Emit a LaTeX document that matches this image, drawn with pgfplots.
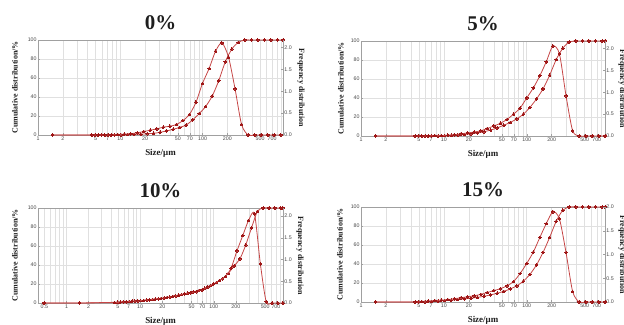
\documentclass[border=0pt]{standalone}
\usepackage{fontspec}
\setmainfont{Liberation Serif}
\newfontfamily\tickfont{Liberation Sans}
\usepackage{pgfplots}
\usepackage{pgfplotstable}
\pgfplotsset{compat=1.18}
\definecolor{linec}{RGB}{198,70,70}
\definecolor{markc}{RGB}{158,22,22}
\definecolor{gridc}{RGB}{224,224,224}
\definecolor{framec}{RGB}{160,160,160}
\definecolor{tickc}{RGB}{70,70,70}
\definecolor{labc}{RGB}{30,30,30}

\pgfplotstableread{
x f
1.5 0
4.5 0
5.4 0
6.48 0
7.78 0
9.33 0.01
11.2 0.02
13.4 0.03
16.1 0.05
19.3 0.08
23.2 0.11
27.9 0.14
33.4 0.18
40.1 0.20
48.1 0.24
57.8 0.33
69.3 0.47
83.2 0.75
99.8 1.18
120 1.52
144 1.92
172 2.11
207 1.78
248 1.06
298 0.24
358 0
430 0
516 0
619 0
743 0
891 0
}\PoneF
\pgfplotstableread{
x c
1.5 0
4.93 0
5.92 0
7.1 0
8.52 0.1
10.2 0.2
12.3 0.4
14.7 0.6
17.7 0.9
21.2 1.3
25.4 1.8
30.5 2.8
36.6 4.3
43.9 6.0
52.7 8.0
63.3 10.5
75.9 16
91.1 22.5
109 30
131 41
157 57
189 77
227 90.5
272 97.5
326 100
392 100
470 100
564 100
677 100
812 100
950 100
}\PoneC
\pgfplotstableread{
x f
1.5 0
4.5 0
5.4 0
6.48 0
7.78 0.01
9.33 0.01
11.2 0.02
13.4 0.03
16.1 0.05
19.3 0.07
23.2 0.09
27.9 0.12
33.4 0.17
40.1 0.23
48.1 0.29
57.8 0.38
69.3 0.50
83.2 0.64
99.8 0.87
120 1.10
144 1.38
172 1.70
207 2.06
248 1.88
298 0.92
358 0.12
430 0
516 0
619 0
743 0
880 0
}\PtwoF
\pgfplotstableread{
x c
1.5 0
4.93 0
5.92 0
7.1 0.1
8.52 0.2
10.2 0.4
12.3 0.7
14.7 1.1
17.7 1.6
21.2 2.3
25.4 3.2
30.5 4.5
36.6 6.2
43.9 8.5
52.7 11.3
63.3 14.3
75.9 18
91.1 23
109 30
131 39
157 49.5
189 64
227 80.5
272 92.3
326 99
392 100
470 100
564 100
677 100
812 100
880 100
}\PtwoC
\pgfplotstableread{
x f
0.5 0
1.5 0
4.5 0.01
5.4 0.02
6.48 0.03
7.78 0.04
9.33 0.05
11.2 0.06
13.4 0.075
16.1 0.09
19.3 0.105
23.2 0.125
27.9 0.15
33.4 0.18
40.1 0.21
48.1 0.235
57.8 0.26
69.3 0.30
83.2 0.37
99.8 0.44
120 0.52
144 0.61
172 0.80
207 1.20
248 1.55
298 1.90
358 2.05
430 0.90
516 0.03
619 0
743 0
873 0
}\PthreeF
\pgfplotstableread{
x c
0.5 0
1.5 0
4.93 0.8
5.92 1.1
7.1 1.5
8.52 2.0
10.2 2.5
12.3 3.1
14.7 3.7
17.7 4.4
21.2 5.2
25.4 6.2
30.5 7.4
36.6 8.8
43.9 10.2
52.7 11.6
63.3 13.3
75.9 15.5
91.1 18.3
109 21.5
131 25.5
157 31
189 39
227 46.5
272 61
326 79
392 96.4
470 100
564 100
677 100
812 100
873 100
}\PthreeC
\pgfplotstableread{
x f
1.5 0
4.5 0
5.4 0.01
6.48 0.02
7.78 0.03
9.33 0.04
11.2 0.05
13.4 0.07
16.1 0.09
19.3 0.11
23.2 0.13
27.9 0.16
33.4 0.20
40.1 0.24
48.1 0.28
57.8 0.34
69.3 0.43
83.2 0.60
99.8 0.81
120 1.05
144 1.36
172 1.65
207 1.90
248 1.75
298 1.04
358 0.22
430 0
516 0
619 0
743 0
880 0
}\PfourF
\pgfplotstableread{
x c
1.5 0
4.93 0.1
5.92 0.3
7.1 0.6
8.52 1.0
10.2 1.5
12.3 2.0
14.7 2.6
17.7 3.3
21.2 4.0
25.4 4.9
30.5 6.0
36.6 7.5
43.9 9.2
52.7 11.2
63.3 13.8
75.9 17
91.1 22
109 29
131 39
157 52
189 68
227 85
272 96.5
326 100
392 100
470 100
564 100
677 100
812 100
880 100
}\PfourC

\tikzset{
  myCurve/.style={smooth, tension=0.45, color=linec, line width=0.8pt,
    mark=*, mark size=1.35bp, mark options={fill=markc, draw=markc, line width=0pt}},
  ttl/.style={font=\bfseries\fontsize{21}{24}\selectfont, text=labc, anchor=base},
  xl/.style={font=\bfseries\fontsize{9}{10}\selectfont, text=labc, anchor=base},
  yl/.style={font=\bfseries\fontsize{8}{9}\selectfont, text=labc},
}
\pgfplotsset{
  every axis/.append style={
    scale only axis, height=95bp, anchor=south west,
    tick label style={font=\tickfont\fontsize{5.3}{6}\selectfont, text=tickc, inner sep=1.2pt},
    axis line style={framec, line width=0.8pt},
    major tick length=2bp, minor tick length=0pt,
    tick style={framec, line width=0.4pt},
    clip=false,
  },
}

\begin{document}
\begin{tikzpicture}
\useasboundingbox (0,0) rectangle (624bp,325bp);

% ---------- Panel 1: 0% ----------
\begin{axis}[name=a1, at={(38bp,190bp)}, width=245bp, xmin=1, xmax=950,
  xmode=log, log ticks with fixed point, /pgf/number format/assume math mode=true,
  ymin=0, ymax=100, ytick={0,20,40,60,80,100}, xtick pos=bottom, ytick pos=left,
  xtick={1,2,5,7,10,20,50,70,100,200,500,700},
  minor xtick={3,4,6,8,9,30,40,60,80,90,300,400,600,800,900},
  grid=both, major grid style={gridc, line width=0.5pt}, minor grid style={gridc, line width=0.5pt}]
\addplot[myCurve] table[x=x, y=c] {\PoneC};
\end{axis}
\begin{axis}[at={(38bp,190bp)}, width=245bp, xmin=1, xmax=950, xmode=log,
  axis y line*=right, axis x line=none, ymin=0, ymax=2.175, ytick={0,0.5,1,1.5,2},
  /pgf/number format/assume math mode=true,
  yticklabel style={/pgf/number format/fixed, /pgf/number format/fixed zerofill, /pgf/number format/precision=1}]
\addplot[myCurve] table[x=x, y=f] {\PoneF};
\end{axis}
\node[ttl] at ([yshift=10.5bp]a1.north) {0\%};
\node[xl] at ([yshift=-20.5bp]a1.south) {Size/μm};
\node[yl, rotate=90] at ([xshift=-23bp]a1.west) {Cumulative distribution/\%};
\node[yl, rotate=-90] at ([xshift=18bp]a1.east) {Frequency distribution};

% ---------- Panel 2: 5% ----------
\begin{axis}[name=a2, at={(361bp,189bp)}, width=244bp, xmin=1, xmax=880,
  xmode=log, log ticks with fixed point, /pgf/number format/assume math mode=true,
  ymin=0, ymax=100, ytick={0,20,40,60,80,100}, xtick pos=bottom, ytick pos=left,
  xtick={1,2,5,7,10,20,50,70,100,200,500,700},
  minor xtick={3,4,6,8,9,30,40,60,80,90,300,400,600,800},
  grid=both, major grid style={gridc, line width=0.5pt}, minor grid style={gridc, line width=0.5pt}]
\addplot[myCurve] table[x=x, y=c] {\PtwoC};
\end{axis}
\begin{axis}[at={(361bp,189bp)}, width=244bp, xmin=1, xmax=880, xmode=log,
  axis y line*=right, axis x line=none, ymin=0, ymax=2.175, ytick={0,0.5,1,1.5,2},
  /pgf/number format/assume math mode=true,
  yticklabel style={/pgf/number format/fixed, /pgf/number format/fixed zerofill, /pgf/number format/precision=1}]
\addplot[myCurve] table[x=x, y=f] {\PtwoF};
\end{axis}
\node[ttl] at ([yshift=10.5bp]a2.north) {5\%};
\node[xl] at ([yshift=-20.5bp]a2.south) {Size/μm};
\node[yl, rotate=90] at ([xshift=-20bp]a2.west) {Cumulative distribution/\%};
\node[yl, rotate=-90] at ([xshift=17bp]a2.east) {Frequency distribution};

% ---------- Panel 3: 10% ----------
\begin{axis}[name=a3, at={(38bp,22bp)}, width=245bp, xmin=0.41, xmax=873,
  xmode=log, log ticks with fixed point, /pgf/number format/assume math mode=true,
  ymin=0, ymax=100, ytick={0,20,40,60,80,100}, xtick pos=bottom, ytick pos=left,
  xtick={0.5,1,2,5,7,10,20,50,70,100,200,500,700},
  minor xtick={0.6,0.7,0.8,0.9,3,4,6,8,9,30,40,60,80,90,300,400,600,800},
  grid=both, major grid style={gridc, line width=0.5pt}, minor grid style={gridc, line width=0.5pt}]
\addplot[myCurve] table[x=x, y=c] {\PthreeC};
\end{axis}
\begin{axis}[at={(38bp,22bp)}, width=245bp, xmin=0.41, xmax=873, xmode=log,
  axis y line*=right, axis x line=none, ymin=0, ymax=2.184, ytick={0,0.5,1,1.5,2},
  /pgf/number format/assume math mode=true,
  yticklabel style={/pgf/number format/fixed, /pgf/number format/fixed zerofill, /pgf/number format/precision=1}]
\addplot[myCurve] table[x=x, y=f] {\PthreeF};
\end{axis}
\node[ttl] at ([yshift=10.5bp]a3.north) {10\%};
\node[xl] at ([yshift=-20.5bp]a3.south) {Size/μm};
\node[yl, rotate=90] at ([xshift=-23bp]a3.west) {Cumulative distribution/\%};
\node[yl, rotate=-90] at ([xshift=17bp]a3.east) {Frequency distribution};

% ---------- Panel 4: 15% ----------
\begin{axis}[name=a4, at={(361bp,23bp)}, width=244bp, xmin=1, xmax=880,
  xmode=log, log ticks with fixed point, /pgf/number format/assume math mode=true,
  ymin=0, ymax=100, ytick={0,20,40,60,80,100}, xtick pos=bottom, ytick pos=left,
  xtick={1,2,5,7,10,20,50,70,100,200,500,700},
  minor xtick={3,4,6,8,9,30,40,60,80,90,300,400,600,800},
  grid=both, major grid style={gridc, line width=0.5pt}, minor grid style={gridc, line width=0.5pt}]
\addplot[myCurve] table[x=x, y=c] {\PfourC};
\end{axis}
\begin{axis}[at={(361bp,23bp)}, width=244bp, xmin=1, xmax=880, xmode=log,
  axis y line*=right, axis x line=none, ymin=0, ymax=2.0, ytick={0,0.5,1,1.5,2},
  /pgf/number format/assume math mode=true,
  yticklabel style={/pgf/number format/fixed, /pgf/number format/fixed zerofill, /pgf/number format/precision=1}]
\addplot[myCurve] table[x=x, y=f] {\PfourF};
\end{axis}
\node[ttl] at ([yshift=10.5bp]a4.north) {15\%};
\node[xl] at ([yshift=-20.5bp]a4.south) {Size/μm};
\node[yl, rotate=90] at ([xshift=-21bp]a4.west) {Cumulative distribution/\%};
\node[yl, rotate=-90] at ([xshift=17bp]a4.east) {Frequency distribution};
\end{tikzpicture}
\end{document}
